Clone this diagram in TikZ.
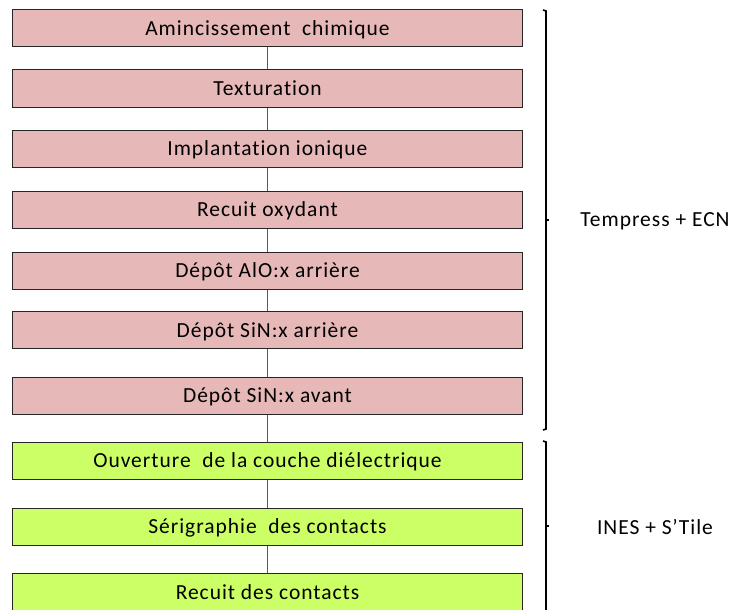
\documentclass[tikz,border=0pt]{standalone}
\usepackage{fontspec}
\setmainfont{Carlito}[LetterSpace=4.5,Ligatures=NoCommon]
\definecolor{pinkfill}{HTML}{E6B9B8}
\definecolor{greenfill}{HTML}{CCFF66}
\definecolor{edge}{HTML}{262626}
\begin{document}
\begin{tikzpicture}[x=1pt,y=-1pt,
  stepbox/.style={draw=edge,line width=1pt,minimum width=510pt,minimum height=37pt,inner sep=0pt,text height=18pt,text depth=4pt,font=\fontsize{21.5}{24}\selectfont,anchor=center},
  pinkbox/.style={stepbox,fill=pinkfill},
  greenbox/.style={stepbox,fill=greenfill},
  link/.style={draw=gray!70!black,line width=1pt},
  brace/.style={draw=black,line width=1.6pt},
  label/.style={font=\fontsize{21.5}{24}\selectfont}]
\useasboundingbox (0,0) rectangle (734,610);
\draw[link] (267,28) -- (267,600);
\node[pinkbox] (b1) at (267.5,28.5) {Amincissement\ \ chimique};
\node[pinkbox] (b2) at (267.5,88.5) {Texturation};
\node[pinkbox] (b3) at (267.5,148.5) {Implantation ionique};
\node[pinkbox] (b4) at (267.5,209.5) {Recuit oxydant};
\node[pinkbox] (b5) at (267.5,270.5) {Dépôt AlO:x arrière};
\node[pinkbox] (b6) at (267.5,330) {Dépôt SiN:x arrière};
\node[pinkbox] (b7) at (267.5,395.5) {Dépôt SiN:x avant};
\node[greenbox] (g1) at (267.5,460.5) {Ouverture\ \ de la couche diélectrique};
\node[greenbox] (g2) at (267.5,526.5) {Sérigraphie\ \ des contacts};
\node[greenbox] (g3) at (267.5,592) {Recuit des contacts};
\draw[brace] (543,10) -- (546,11) -- (546,429) -- (543,430);
\draw[brace] (546,220) -- (549,220);
\draw[brace] (543,441) -- (546,442) -- (546,612);
\draw[brace] (546,526) -- (549,526);
\node[label] (t1) at (655,221) {Tempress + ECN};
\node[label] (t2) at (655,527) {INES + S’Tile};
\end{tikzpicture}
\end{document}
